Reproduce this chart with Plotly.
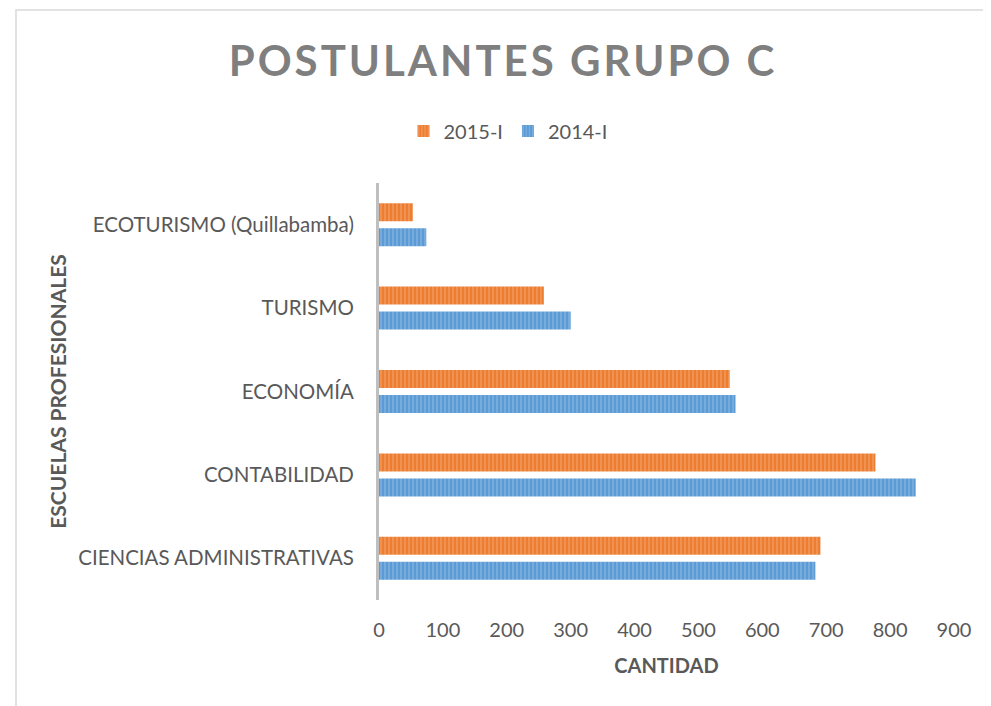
import plotly.graph_objects as go

categories = ["CIENCIAS ADMINISTRATIVAS", "CONTABILIDAD", "ECONOMÍA", "TURISMO", "ECOTURISMO (Quillabamba)"]
values_2014 = [683, 840, 558, 300, 74]
values_2015 = [691, 777, 549, 258, 53]
x_ticks = [0, 100, 200, 300, 400, 500, 600, 700, 800, 900]

FONT = "Lato"
GRAY = "#595959"

fig = go.Figure()
fig.add_trace(go.Bar(
    y=categories, x=values_2014, name="2014-I", orientation="h",
    marker=dict(color="#5B9BD5", line=dict(width=0),
                pattern=dict(shape="|", fgcolor="#9DC3E6", size=4, solidity=0.4)),
))
fig.add_trace(go.Bar(
    y=categories, x=values_2015, name="2015-I", orientation="h",
    marker=dict(color="#ED7D31", line=dict(width=0),
                pattern=dict(shape="|", fgcolor="#F4B183", size=4, solidity=0.4)),
))

W, H = 983, 698
fig.update_layout(
    width=W, height=H,
    paper_bgcolor="white", plot_bgcolor="white",
    margin=dict(l=371, r=37, t=175, b=106, autoexpand=False),
    barmode="group", bargap=0.4, bargroupgap=0.28,
    font=dict(family=FONT, color=GRAY, size=20),
    title=dict(
        text='<span style="letter-spacing:3px">POSTULANTES GRUPO C</span>',
        x=495 / W, xref="container", xanchor="center",
        y=1 - 53 / H, yref="container", yanchor="middle",
        font=dict(family=FONT, size=42, color="#7F7F7F", weight="bold"),
    ),
    legend=dict(
        orientation="h", x=500 / W, xref="container", xanchor="center",
        y=1 - 123 / H, yref="container", yanchor="middle",
        traceorder="reversed", font=dict(size=20, color=GRAY),
        itemwidth=30,
    ),
    showlegend=True,
)

fig.update_xaxes(
    range=[0, 900], tickvals=x_ticks, showgrid=False, zeroline=False,
    showline=False, ticks="", ticklabelstandoff=16, tickfont=dict(size=20, color=GRAY),
    title=dict(text="<b>CANTIDAD</b>", font=dict(size=20, color=GRAY), standoff=18),
)
fig.update_yaxes(
    showgrid=False, zeroline=False, showline=True, linecolor="#BFBFBF", linewidth=3,
    ticks="", ticklabelstandoff=18, tickfont=dict(size=20.5, color=GRAY),
    title=dict(text="<b>ESCUELAS PROFESIONALES</b>", font=dict(size=21, color=GRAY), standoff=6),
)

fig.add_shape(type="rect", xref="paper", yref="paper",
              x0=(8 - 371) / 575, x1=1.2, y0=-0.3, y1=(592 - 2) / 417,
              line=dict(color="#D9D9D9", width=1.5), fillcolor="rgba(0,0,0,0)", layer="below")

fig.write_html("out.html")
